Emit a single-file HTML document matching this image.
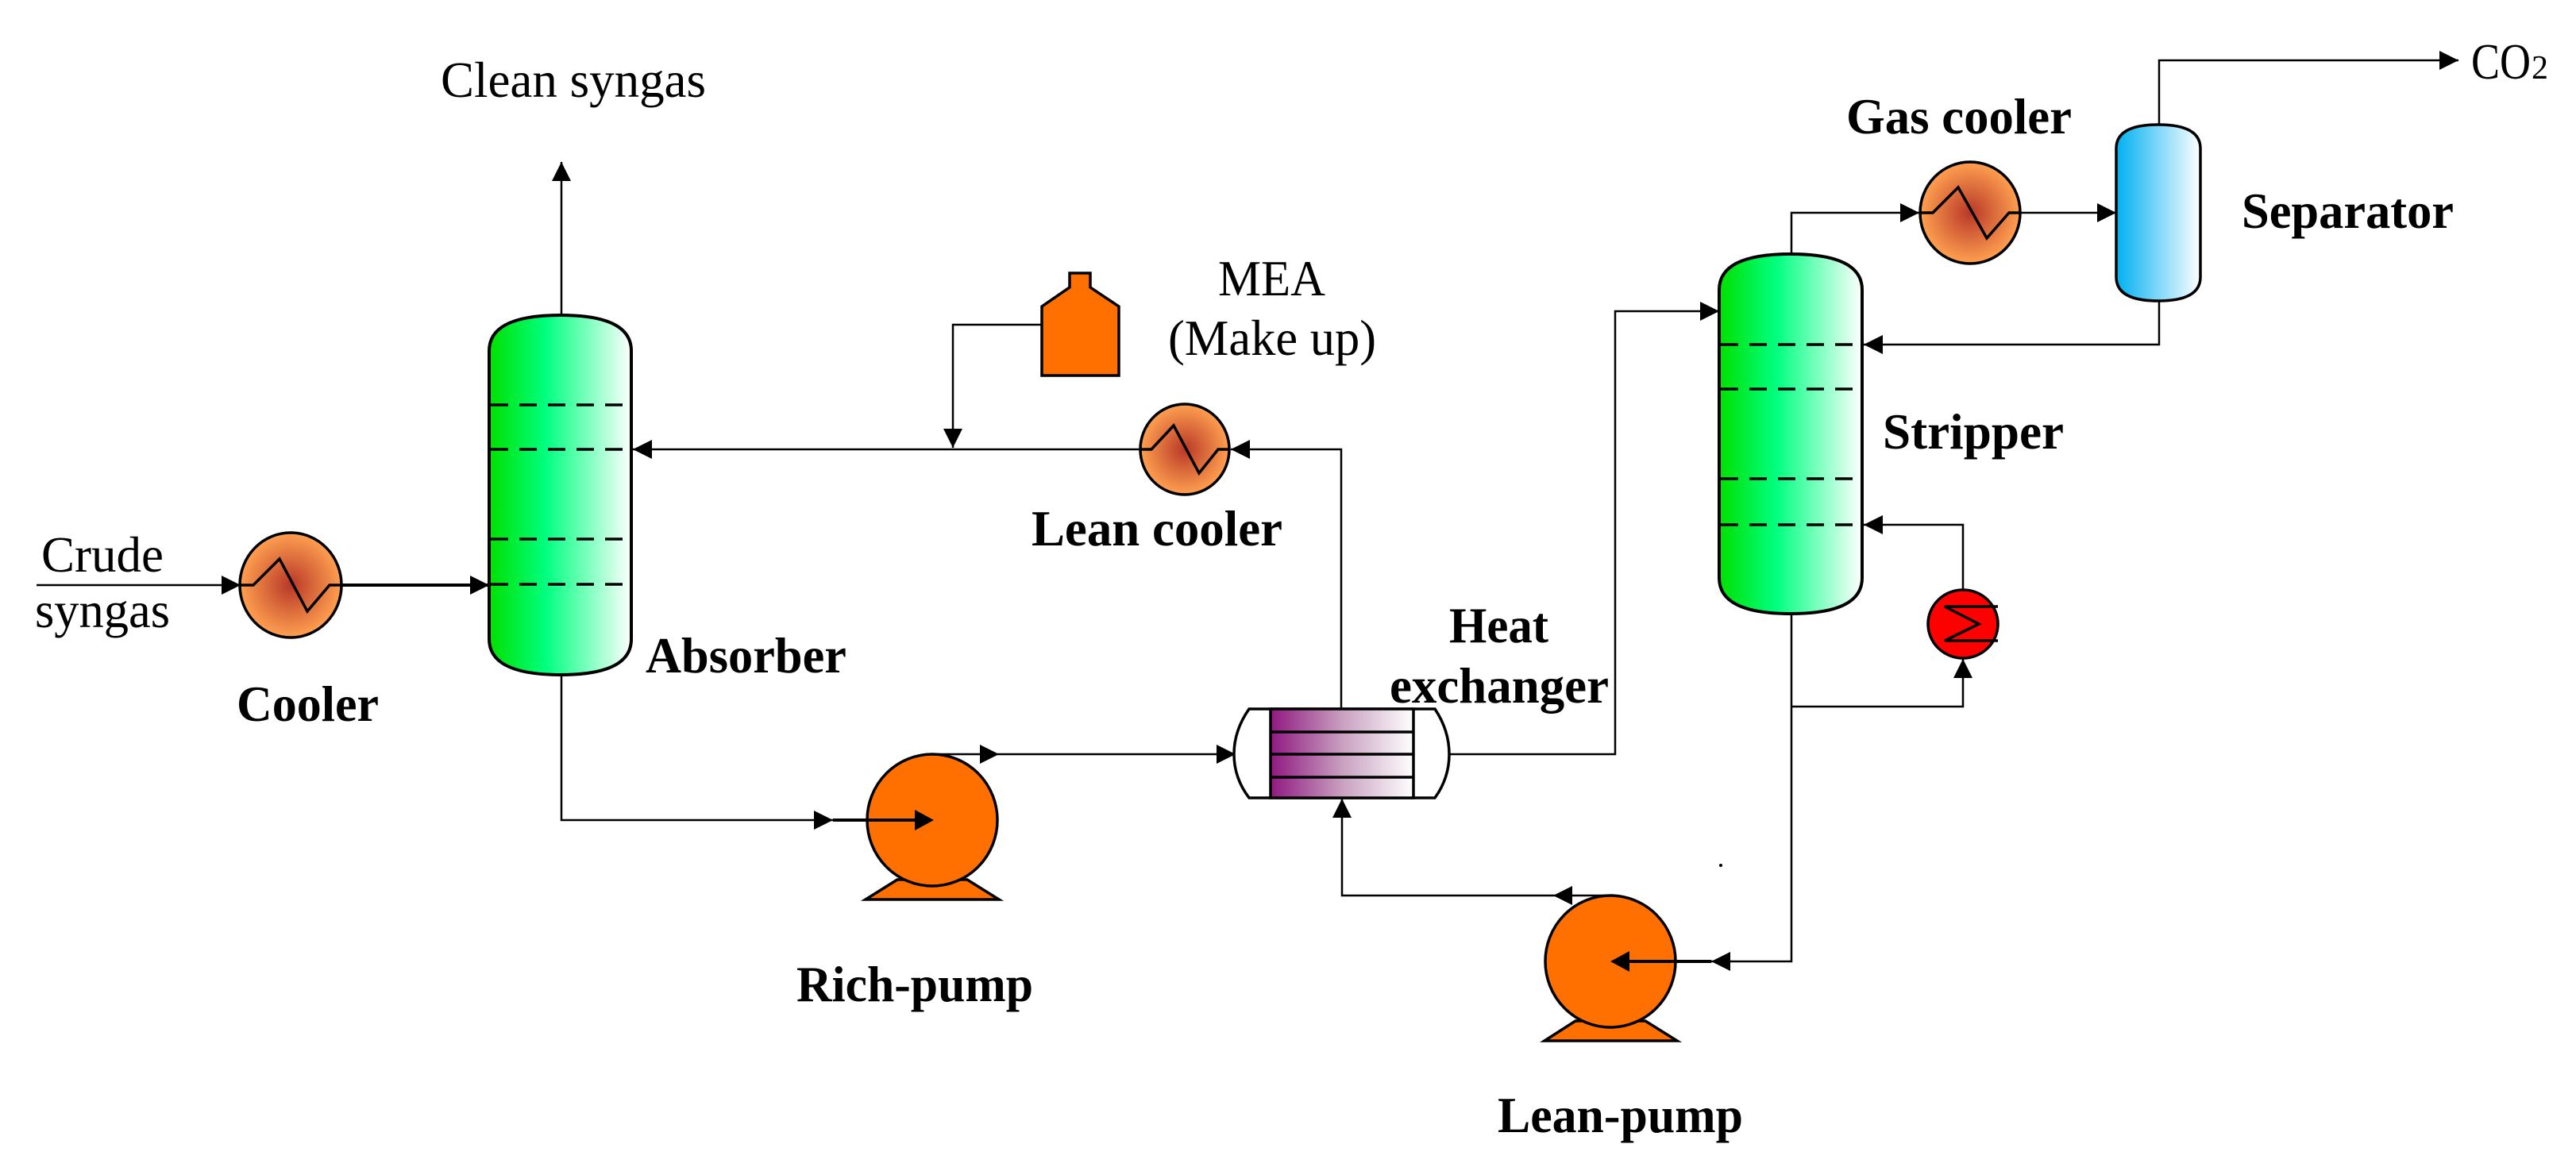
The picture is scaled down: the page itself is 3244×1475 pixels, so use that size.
<!DOCTYPE html>
<html><head><meta charset="utf-8"><style>
html,body{margin:0;padding:0;background:#fff}
svg{display:block}
text{font-family:"Liberation Serif",serif;fill:#000}
.b{font-weight:bold}
</style></head><body>
<svg width="3244" height="1475" viewBox="0 0 3244 1475" xmlns="http://www.w3.org/2000/svg">
<defs>
<marker id="a" markerUnits="userSpaceOnUse" markerWidth="26" markerHeight="26" refX="24" refY="13" orient="auto"><path d="M0,1 L24,13 L0,25 Z" fill="#000"/></marker>
<linearGradient id="gcol" x1="0" y1="0" x2="1" y2="0">
<stop offset="0" stop-color="#00e000"/><stop offset="0.4" stop-color="#00ff80"/><stop offset="1" stop-color="#ffffff"/></linearGradient>
<linearGradient id="gsep" x1="0" y1="0" x2="1" y2="0">
<stop offset="0" stop-color="#00b0f0"/><stop offset="1" stop-color="#ffffff"/></linearGradient>
<linearGradient id="ghx" x1="0" y1="0" x2="1" y2="0">
<stop offset="0" stop-color="#901880"/><stop offset="0.5" stop-color="#c8a0c0"/><stop offset="1" stop-color="#ffffff"/></linearGradient>
<radialGradient id="gc" cx="0.5" cy="0.5" r="0.5">
<stop offset="0" stop-color="#b83828"/><stop offset="1" stop-color="#ffa050"/></radialGradient>
</defs>
<g fill="none" stroke="#000" stroke-width="2.5">
<!-- clean syngas -->
<path d="M707,397 L707,204" marker-end="url(#a)"/>
<!-- crude inlet -->
<path d="M46,737 L303,737" marker-end="url(#a)"/>
<path d="M430,737 L616,737" stroke-width="4" marker-end="url(#a)"/>
<!-- lean line to absorber -->
<path d="M1436,566 L797,566" marker-end="url(#a)"/>
<path d="M1689,892 L1689,566 L1550,566" marker-end="url(#a)"/>
<!-- MEA -->
<path d="M1312,409 L1200,409 L1200,564" marker-end="url(#a)"/>
<!-- absorber bottom to rich pump -->
<path d="M707,850 L707,1033 L1049,1033" marker-end="url(#a)"/>
<path d="M1049,1033 L1175,1033" stroke-width="4" marker-end="url(#a)"/>
<path d="M1167,950 L1258,950" marker-end="url(#a)"/>
<path d="M1258,950 L1556,950" marker-end="url(#a)"/>
<!-- HX to stripper -->
<path d="M1825,950 L2034,950 L2034,392 L2165,392" marker-end="url(#a)"/>
<!-- lean pump to HX -->
<path d="M2034,1128 L1956,1128" marker-end="url(#a)"/>
<path d="M1956,1128 L1690,1128 L1690,1006" marker-end="url(#a)"/>
<!-- stripper bottom to lean pump -->
<path d="M2256,773 L2256,1211 L2155,1211" marker-end="url(#a)"/>
<path d="M2155,1211 L2028,1211" stroke-width="4" marker-end="url(#a)"/>
<!-- reboiler -->
<path d="M2256,890 L2472,890 L2472,830" marker-end="url(#a)"/>
<path d="M2472,742 L2472,661 L2347,661" marker-end="url(#a)"/>
<!-- stripper top -->
<path d="M2256,320 L2256,268 L2417,268" marker-end="url(#a)"/>
<path d="M2545,268 L2665,268" marker-end="url(#a)"/>
<path d="M2719,157 L2719,76 L3096,76" marker-end="url(#a)"/>
<path d="M2719,379 L2719,434 L2347,434" marker-end="url(#a)"/>
</g>
<!-- Absorber -->
<path d="M616,442 Q616,397 706,397 Q795,397 795,442 L795,805 Q795,850 706,850 Q616,850 616,805 Z" fill="url(#gcol)" stroke="#000" stroke-width="4"/>
<g stroke="#000" stroke-width="3.5" stroke-dasharray="22,14">
<path d="M618,510 L795,510 M618,566 L795,566 M618,679 L795,679 M618,736 L795,736"/>
</g>
<!-- Stripper -->
<path d="M2165,365 Q2165,320 2255,320 Q2345,320 2345,365 L2345,728 Q2345,773 2255,773 Q2165,773 2165,728 Z" fill="url(#gcol)" stroke="#000" stroke-width="4"/>
<g stroke="#000" stroke-width="3.5" stroke-dasharray="22,14">
<path d="M2167,434 L2345,434 M2167,490 L2345,490 M2167,603 L2345,603 M2167,661 L2345,661"/>
</g>
<!-- Separator -->
<path d="M2665,187 Q2665,157 2718,157 Q2771,157 2771,187 L2771,349 Q2771,379 2718,379 Q2665,379 2665,349 Z" fill="url(#gsep)" stroke="#000" stroke-width="3.5"/>
<!-- coolers -->
<g stroke="#000" stroke-width="3.5">
<ellipse cx="366" cy="737" rx="64" ry="66" fill="url(#gc)"/>
<path d="M303,737 L319,737 L352,704 L387,770 L415,737 L430,737" fill="none"/>
<ellipse cx="1492" cy="566" rx="56" ry="57" fill="url(#gc)"/>
<path d="M1436,566 L1450,566 L1478,536 L1510,596 L1534,566 L1548,566" fill="none"/>
<ellipse cx="2481" cy="268" rx="63" ry="64" fill="url(#gc)"/>
<path d="M2418,268 L2434,268 L2466,236 L2502,300 L2530,268 L2545,268" fill="none"/>
<!-- reboiler -->
<ellipse cx="2472" cy="786" rx="44" ry="43" fill="#ff0000"/>
<path d="M2516,764 L2449,764 L2492,786 L2449,807 L2516,807" fill="none"/>
<!-- MEA tank -->
<path d="M1347,344 L1373,344 L1373,362 L1409,386 L1409,473 L1312,473 L1312,386 L1347,362 Z" fill="#ff7000"/>
<!-- pumps -->
<path d="M1130,1108 L1090,1133 L1258,1133 L1218,1108 Z" fill="#ff7000"/>
<ellipse cx="1174" cy="1033" rx="82" ry="83" fill="#ff7000"/>
<path d="M1984,1286 L1945,1311 L2112,1311 L2072,1286 Z" fill="#ff7000"/>
<ellipse cx="2028" cy="1211" rx="82" ry="83" fill="#ff7000"/>
</g>
<path d="M1049,1033 L1160,1033" stroke="#000" stroke-width="4"/>
<path d="M1176,1033 L1152,1020 L1152,1046 Z"/>
<path d="M2155,1211 L2044,1211" stroke="#000" stroke-width="4"/>
<path d="M2028,1211 L2052,1198 L2052,1224 Z"/>
<!-- HX -->
<g stroke="#000" stroke-width="3.5">
<path d="M1573,893 L1807,893 Q1825,920 1825,950 Q1825,980 1807,1005 L1573,1005 Q1554,980 1554,950 Q1554,920 1573,893 Z" fill="#fff"/>
<rect x="1600" y="893" width="180" height="112" fill="url(#ghx)"/>
<path d="M1600,922 L1780,922 M1600,950 L1780,950 M1600,979 L1780,979" fill="none"/>
</g>
<circle cx="2167" cy="1090" r="2" fill="#000"/>
<!-- labels -->
<g font-size="64">
<text x="555" y="122" textLength="334" lengthAdjust="spacingAndGlyphs">Clean syngas</text>
<text x="52" y="720" textLength="154" lengthAdjust="spacingAndGlyphs">Crude</text>
<text x="44" y="790" textLength="170" lengthAdjust="spacingAndGlyphs">syngas</text>
<text x="1534" y="372" textLength="135" lengthAdjust="spacingAndGlyphs">MEA</text>
<text x="1471" y="447" textLength="262" lengthAdjust="spacingAndGlyphs">(Make up)</text>
<text x="3112" y="99" textLength="75" lengthAdjust="spacingAndGlyphs">CO</text><text x="3188" y="99" font-size="42">2</text>
</g>
<g font-size="64" class="b">
<text class="b" x="298" y="908" textLength="179" lengthAdjust="spacingAndGlyphs">Cooler</text>
<text class="b" x="813" y="847" textLength="253" lengthAdjust="spacingAndGlyphs">Absorber</text>
<text class="b" x="1299" y="687" textLength="316" lengthAdjust="spacingAndGlyphs">Lean cooler</text>
<text class="b" x="1003" y="1261" textLength="298" lengthAdjust="spacingAndGlyphs">Rich-pump</text>
<text class="b" x="1825" y="809" textLength="125" lengthAdjust="spacingAndGlyphs">Heat</text>
<text class="b" x="1750" y="885" textLength="276" lengthAdjust="spacingAndGlyphs">exchanger</text>
<text class="b" x="1886" y="1426" textLength="309" lengthAdjust="spacingAndGlyphs">Lean-pump</text>
<text class="b" x="2371" y="565" textLength="228" lengthAdjust="spacingAndGlyphs">Stripper</text>
<text class="b" x="2325" y="168" textLength="284" lengthAdjust="spacingAndGlyphs">Gas cooler</text>
<text class="b" x="2823" y="287" textLength="267" lengthAdjust="spacingAndGlyphs">Separator</text>
</g>
</svg>
</body></html>
